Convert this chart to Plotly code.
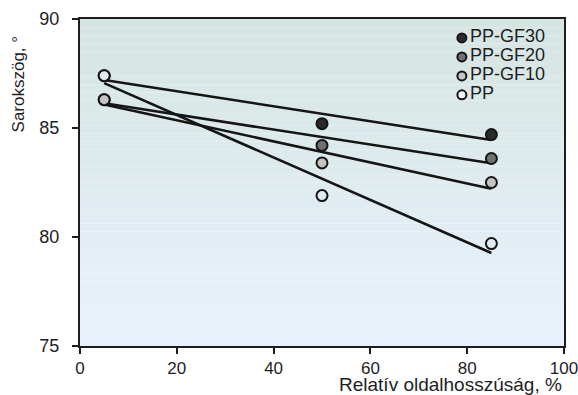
import numpy as np
import plotly.graph_objects as go

# Measured contact angle vs. relative side length
x_vals = [5, 50, 85]
series_names = ["PP-GF30", "PP-GF20", "PP-GF10", "PP"]
angle_gf30 = [87.4, 85.2, 84.7]
angle_gf20 = [86.3, 84.2, 83.6]
angle_gf10 = [86.3, 83.4, 82.5]
angle_pp = [87.4, 81.9, 79.7]

x_ticks = [0, 20, 40, 60, 80, 100]
y_ticks = [75, 80, 85, 90]

series = [angle_gf30, angle_gf20, angle_gf10, angle_pp]
fills = ["#2b2b2b", "#717171", "#c4c4c4", "#e2ecee"]
legend_fills = ["#2b2b2b", "#717171", "#c4c4c4", "#f4f8f8"]

FONT = "Liberation Sans, Arial, sans-serif"
INK = "#1e1e1e"

fig = go.Figure()

# Least-squares trend lines
xa = np.array(x_vals, dtype=float)
for ys in series:
    k, b = np.polyfit(xa, np.array(ys, dtype=float), 1)
    xl = np.array([xa.min(), xa.max()])
    fig.add_trace(go.Scatter(x=xl, y=k * xl + b, mode="lines",
                             line=dict(color="#151515", width=2.6),
                             showlegend=False, hoverinfo="skip"))

# Measured points
for name, ys, fc in zip(series_names, series, fills):
    fig.add_trace(go.Scatter(x=x_vals, y=ys, mode="markers", name=name,
                             marker=dict(size=11, color=fc,
                                         line=dict(color="#151515", width=2)),
                             showlegend=False))

# Legend block in the upper-right corner
leg_y = [0.942, 0.884, 0.826, 0.768]
fig.add_trace(go.Scatter(x=[0.789] * 4, y=leg_y, mode="markers",
                         marker=dict(size=9, color=legend_fills,
                                     line=dict(color="#151515", width=2)),
                         xaxis="x2", yaxis="y2", showlegend=False,
                         hoverinfo="skip", cliponaxis=False))
fig.add_trace(go.Scatter(x=[0.806] * 4, y=leg_y, mode="text",
                         text=series_names, textposition="middle right",
                         textfont=dict(family=FONT, size=18, color=INK),
                         xaxis="x2", yaxis="y2", showlegend=False,
                         hoverinfo="skip", cliponaxis=False))

# Vertical background gradient of the plotting area
top = np.array([0xd5, 0xe5, 0xe2], dtype=float)
bot = np.array([0xe9, 0xf2, 0xfc], dtype=float)
n_bands = 40
shapes = []
for i in range(n_bands):
    t = (i + 0.5) / n_bands
    c = top * (1 - t) + bot * t
    shapes.append(dict(type="rect", xref="paper", yref="paper",
                       x0=0, x1=1, y0=1 - (i + 1) / n_bands, y1=1 - i / n_bands,
                       fillcolor="rgb(%d,%d,%d)" % tuple(c.round().astype(int)),
                       line=dict(width=0), layer="below"))

axis_common = dict(showline=True, linecolor=INK, linewidth=2, mirror=True,
                   ticks="outside", ticklen=6, tickwidth=2, tickcolor=INK,
                   showgrid=False, zeroline=False, automargin=False,
                   ticklabeloverflow="allow")

fig.update_layout(
    width=578, height=395,
    margin=dict(l=80, r=14, t=19, b=49),
    paper_bgcolor="white", plot_bgcolor="rgba(0,0,0,0)",
    shapes=shapes,
    xaxis=dict(range=[0, 100], tickvals=x_ticks, ticklabelstandoff=0,
               tickfont=dict(family=FONT, size=17, color=INK), **axis_common),
    yaxis=dict(range=[75, 90], tickvals=y_ticks, ticklabelstandoff=9,
               tickfont=dict(family=FONT, size=18, color=INK), **axis_common),
    xaxis2=dict(range=[0, 1], overlaying="x", visible=False, fixedrange=True),
    yaxis2=dict(range=[0, 1], overlaying="y", visible=False, fixedrange=True),
    annotations=[
        dict(text="Sarokszög, °", textangle=-90, xref="paper", yref="paper",
             x=-0.128, y=0.80, xanchor="center", yanchor="middle",
             showarrow=False, font=dict(family=FONT, size=17, color=INK)),
        dict(text="Relatív oldalhosszúság, %", xref="paper", yref="paper",
             x=0.999, y=-0.078, xanchor="right", yanchor="top",
             showarrow=False, font=dict(family=FONT, size=19, color=INK)),
    ],
)

fig.write_html("out.html")
